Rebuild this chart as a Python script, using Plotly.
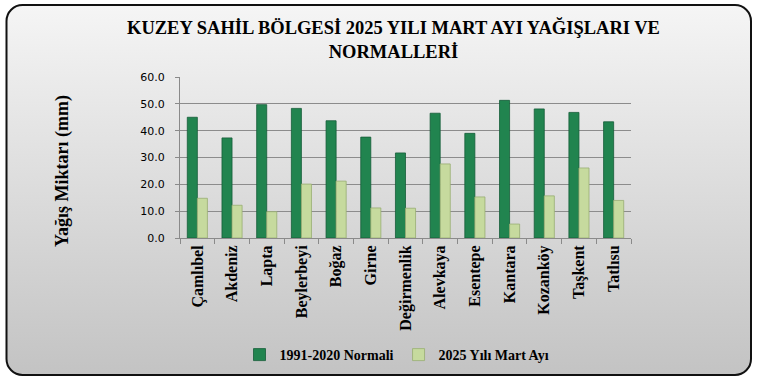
import base64
import plotly.graph_objects as go

stations = ["Çamlıbel", "Akdeniz", "Lapta", "Beylerbeyi", "Boğaz", "Girne", "Değirmenlik",
            "Alevkaya", "Esentepe", "Kantara", "Kozanköy", "Taşkent", "Tatlısu"]
normal_1991_2020 = [45.0, 37.3, 49.7, 48.3, 43.7, 37.6, 31.7, 46.5, 39.0, 51.3, 48.1, 46.8, 43.3]
march_2025 = [14.8, 12.2, 9.8, 20.1, 21.2, 11.2, 11.1, 27.6, 15.3, 5.2, 15.7, 26.1, 14.0]
y_ticks = [0, 10, 20, 30, 40, 50, 60]

W, H = 757, 383
L, R, T, B = 180, 126, 77, 145
pw, ph = W - L - R, H - T - B

svg = f'''<svg xmlns="http://www.w3.org/2000/svg" width="{W}" height="{H}" viewBox="0 0 {W} {H}">
<defs><linearGradient id="g" x1="0" y1="0" x2="0" y2="1">
<stop offset="0" stop-color="#f5f5f5"/><stop offset="1" stop-color="#c3c3c3"/></linearGradient></defs>
<rect x="6.5" y="5" width="744.5" height="370" rx="16" ry="16" fill="url(#g)" stroke="#111" stroke-width="2"/>
</svg>'''
bg_src = "data:image/svg+xml;base64," + base64.b64encode(svg.encode()).decode()

serif = "Liberation Serif, Times New Roman, serif"

def px_x(px):
    return (px - L) / pw

def px_y(py):
    return 1 - (py - T) / ph

fig = go.Figure()
fig.add_trace(go.Bar(x=stations, y=normal_1991_2020, name="<b>1991-2020 Normali</b>",
                     marker=dict(color="#21844f", line=dict(color="#155d39", width=0.8))))
fig.add_trace(go.Bar(x=stations, y=march_2025, name="<b>2025 Yılı Mart Ayı</b>",
                     marker=dict(color="#c6da9e", line=dict(color="#98ad72", width=0.8))))

fig.update_layout(
    width=W, height=H,
    margin=dict(l=L, r=R, t=T, b=B),
    paper_bgcolor="white",
    plot_bgcolor="rgba(0,0,0,0)",
    barmode="group",
    bargap=0.42,
    bargroupgap=0,
    images=[dict(source=bg_src, xref="paper", yref="paper",
                 x=-L / pw, y=1 + T / ph, sizex=W / pw, sizey=H / ph,
                 xanchor="left", yanchor="top", sizing="stretch", layer="below")],
    annotations=[
        dict(text="<b>KUZEY SAHİL BÖLGESİ 2025 YILI MART AYI YAĞIŞLARI VE<br>NORMALLERİ</b>",
             xref="paper", yref="paper", x=px_x(393), y=px_y(39), xanchor="center", yanchor="middle",
             showarrow=False, font=dict(family=serif, size=18.5, color="black")),
        dict(text="<b>Yağış Miktarı (mm)</b>", textangle=-90,
             xref="paper", yref="paper", x=px_x(62), y=px_y(171), xanchor="center", yanchor="middle",
             showarrow=False, font=dict(family=serif, size=18, color="black")),
    ],
    showlegend=True,
    legend=dict(orientation="h", x=px_x(397), xanchor="center", y=px_y(355), yanchor="middle",
                font=dict(family=serif, size=14, color="black"),
                bgcolor="rgba(0,0,0,0)", itemwidth=30, traceorder="normal"),
    font=dict(family=serif, color="black"),
)

fig.update_xaxes(
    tickangle=-90,
    tickfont=dict(family=serif, size=16, color="black"),
    tickprefix="<b>", ticksuffix="</b>",
    showline=True, linecolor="#8a8a8a", linewidth=1,
    ticks="outside", tickson="boundaries", ticklen=5, tickcolor="#8a8a8a",
    showgrid=False,
)
fig.update_yaxes(
    range=[0, 60], tickvals=y_ticks, tickformat=".1f",
    tickfont=dict(family="DejaVu Sans, Arial, sans-serif", size=11, color="black"),
    showgrid=True, gridcolor="#8c8c8c", gridwidth=1,
    showline=True, linecolor="#8a8a8a", linewidth=1,
    ticks="outside", ticklen=4, tickcolor="#8a8a8a", ticklabelstandoff=8,
    zeroline=False,
)

fig.write_html("out.html", config={"displayModeBar": False},
               post_script="document.body.style.margin='0';")
